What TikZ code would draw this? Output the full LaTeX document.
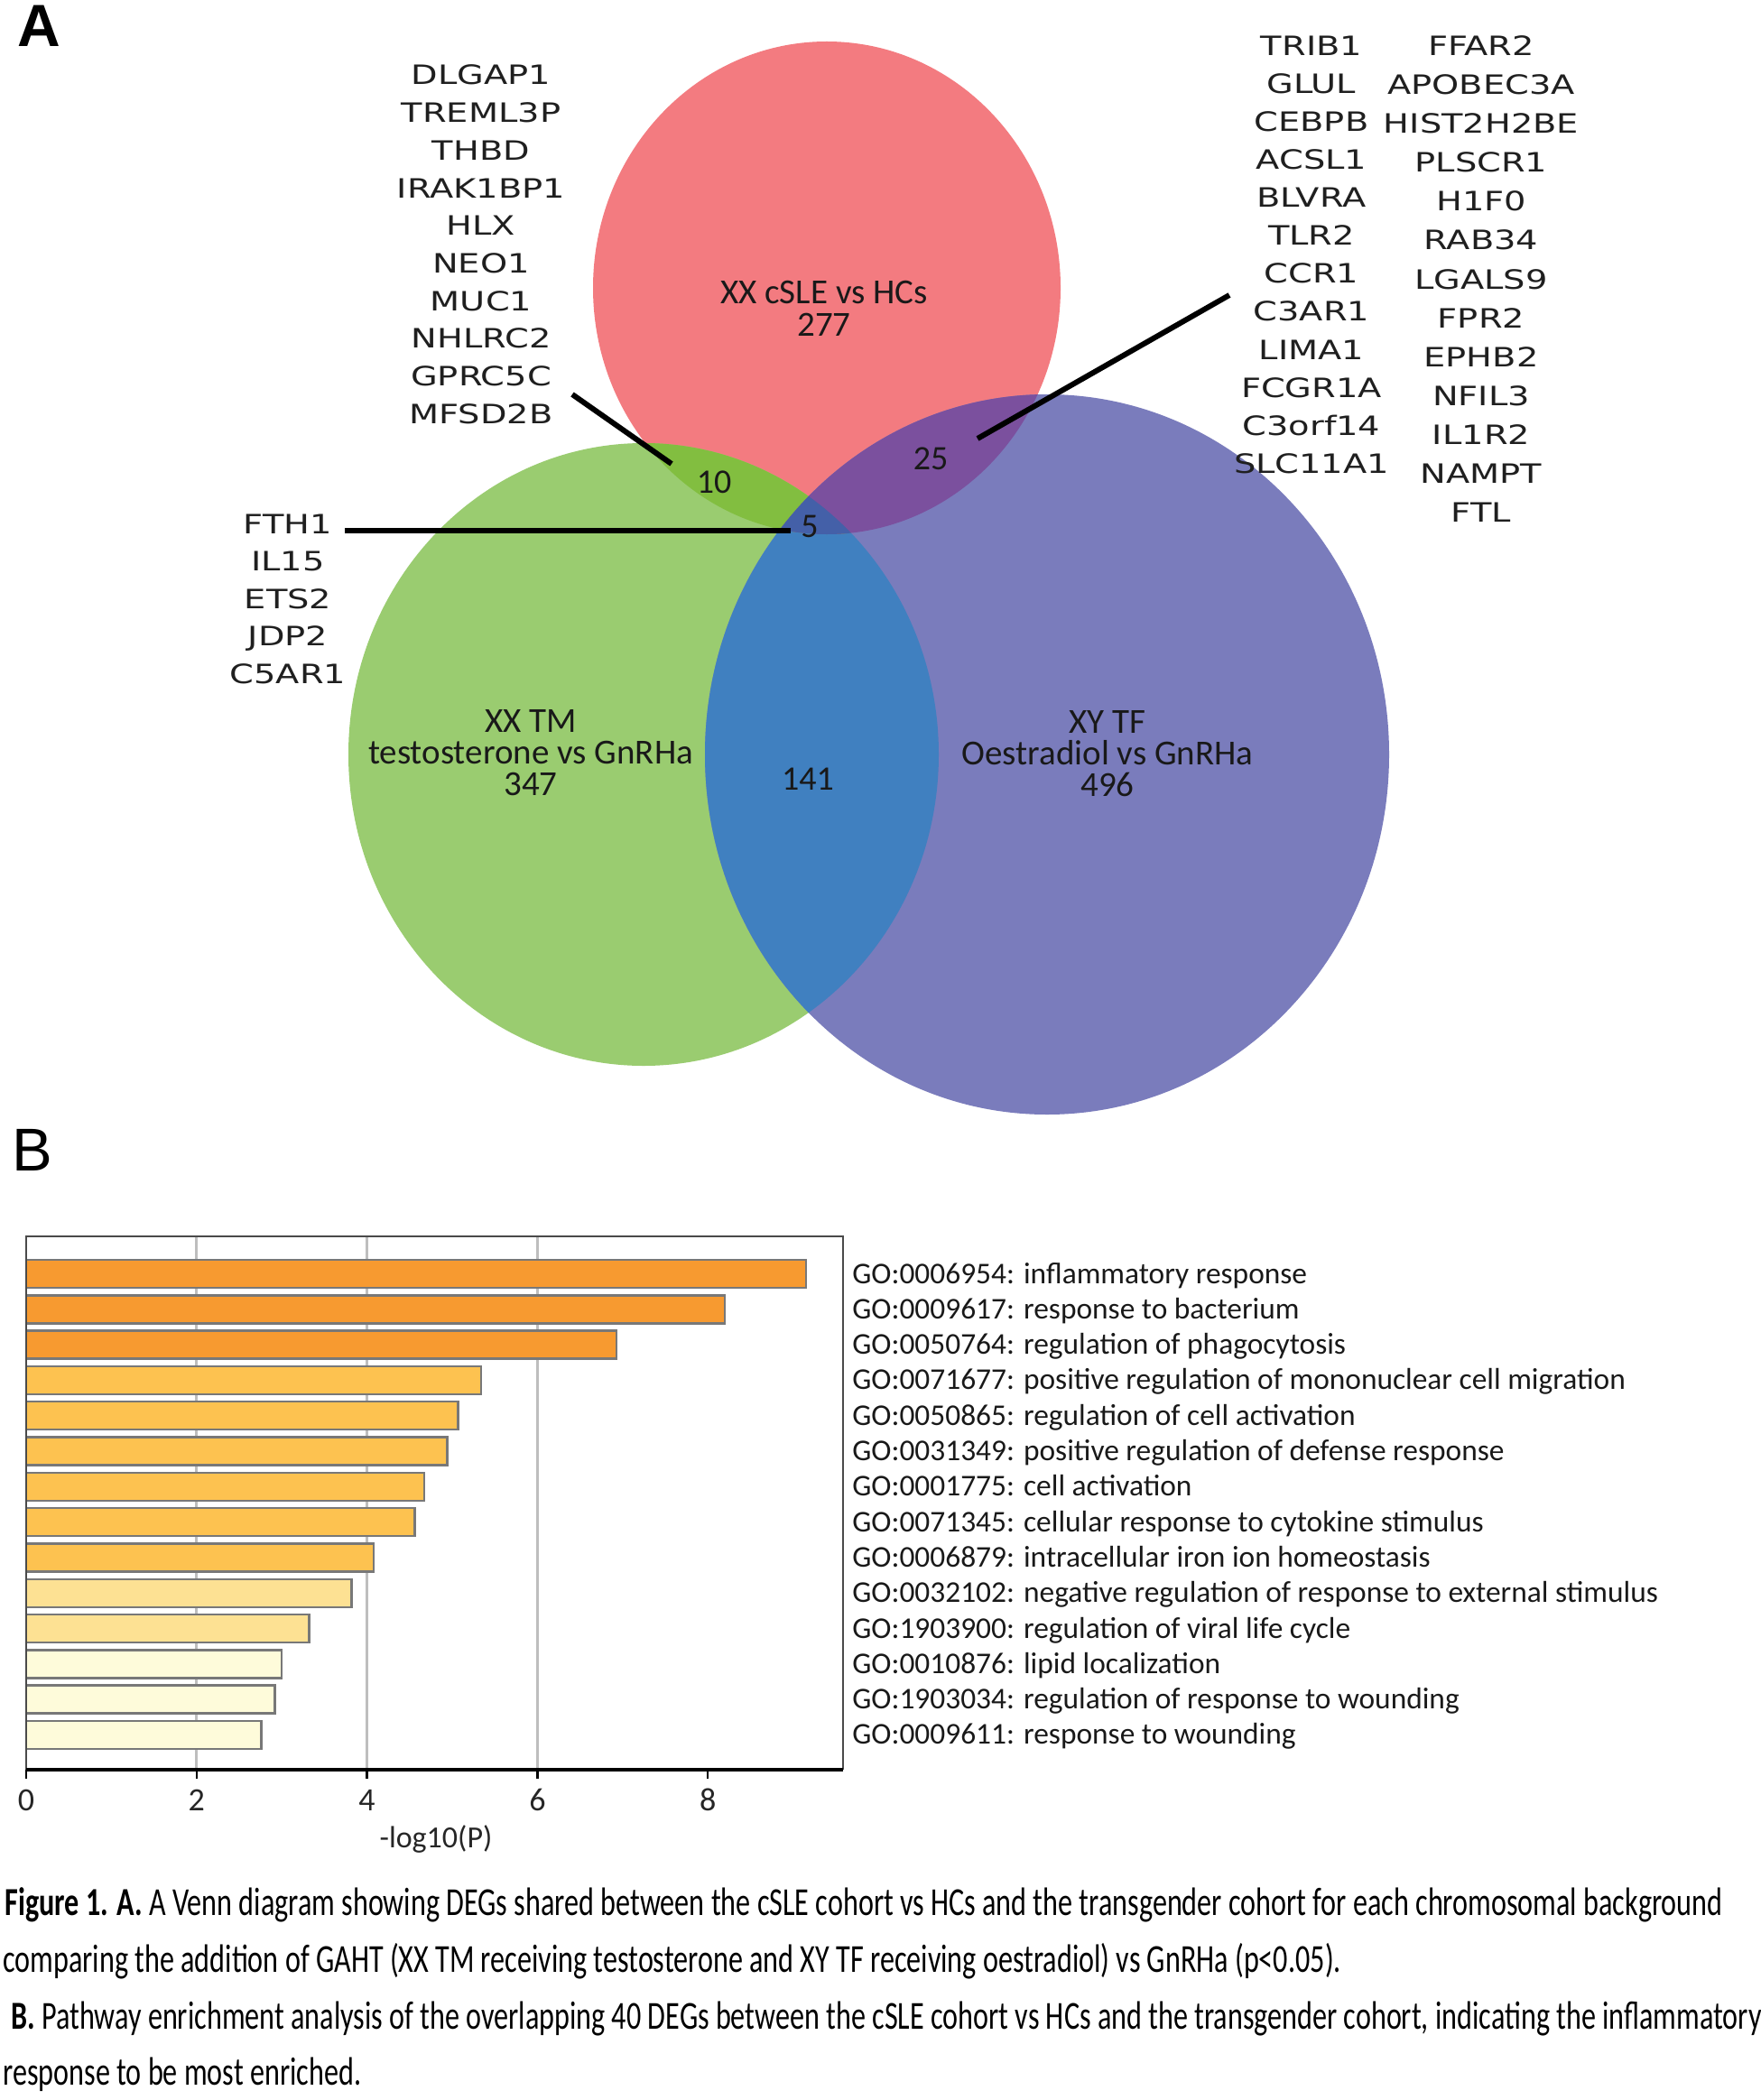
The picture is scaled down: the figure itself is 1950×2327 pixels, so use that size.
\documentclass[tikz,border=0pt]{standalone}
\usepackage{fontspec}
\setmainfont{Carlito}
\newfontfamily\genefont[FakeStretch=1.3]{DejaVu Sans}
\newfontfamily\capfont[FakeStretch=0.731]{Carlito}
\newfontfamily\arialfont{Liberation Sans}
\definecolor{vred}{HTML}{F37B80}
\definecolor{vgreen}{HTML}{9ACC70}
\definecolor{vblue}{HTML}{7A7CBC}
\definecolor{vrg}{HTML}{82BE40}
\definecolor{vrb}{HTML}{7B509E}
\definecolor{vgb}{HTML}{4080C0}
\definecolor{vrgb}{HTML}{4460A8}
\definecolor{orA}{HTML}{F79A30}
\definecolor{orB}{HTML}{FDC250}
\definecolor{orC}{HTML}{FDE193}
\definecolor{orD}{HTML}{FEFBDA}
\definecolor{gridc}{HTML}{BEBEBE}
\definecolor{framec}{HTML}{4A4A4A}
\definecolor{barline}{HTML}{787878}
\tikzset{
  gene/.style={font=\genefont\fontsize{14.75pt}{16pt}\selectfont, text=black!88, anchor=base, inner sep=0pt},
  vlab/.style={text=black!90, anchor=base, inner sep=0pt, align=center},
  vnum/.style={font=\fontsize{19pt}{21pt}\selectfont, text=black!90, anchor=base, inner sep=0pt},
  conn/.style={draw=black, line width=3pt},
  golab/.style={font=\fontsize{16.7pt}{18pt}\selectfont, text=black!90, anchor=base west, inner sep=0pt},
  ticklab/.style={font=\fontsize{18pt}{20pt}\selectfont, text=black!85, anchor=base, inner sep=0pt},
  caplab/.style={font=\capfont\fontsize{22pt}{24pt}\selectfont, text=black, anchor=base west, inner sep=0pt},
  gridline/.style={draw=gridc, line width=1.5pt},
  framebox/.style={draw=framec, line width=1.4pt},
  gobar/.style={draw=barline, line width=1.2pt},
  panel/.style={anchor=base west, inner sep=0pt}
}
\begin{document}
\begin{tikzpicture}[x=0.5pt,y=-0.5pt]
\useasboundingbox (0,0) rectangle (1950,2327);
\fill[white] (0,0) rectangle (1950,2327);

% ---------- Venn diagram ----------
\fill[vred] (916,319) ellipse [x radius=129.5pt, y radius=136.5pt];
\fill[vgreen] (713,836) ellipse [x radius=163.5pt, y radius=172.5pt];
\fill[vblue] (1160,836) ellipse [x radius=189.5pt, y radius=199.5pt];
\begin{scope}
  \clip (713,836) ellipse [x radius=163.5pt, y radius=172.5pt];
  \fill[vgb] (1160,836) ellipse [x radius=189.5pt, y radius=199.5pt];
\end{scope}
\begin{scope}
  \clip (916,319) ellipse [x radius=129.5pt, y radius=136.5pt];
  \fill[vrg] (713,836) ellipse [x radius=163.5pt, y radius=172.5pt];
  \fill[vrb] (1160,836) ellipse [x radius=189.5pt, y radius=199.5pt];
  \clip (713,836) ellipse [x radius=163.5pt, y radius=172.5pt];
  \fill[vrgb] (1160,836) ellipse [x radius=189.5pt, y radius=199.5pt];
\end{scope}

% panel labels
\node[panel, font=\arialfont\bfseries\fontsize{33pt}{35pt}\selectfont] (panelA) at (19,52) {A};
\node[panel, font=\arialfont\fontsize{33.5pt}{35pt}\selectfont] (panelB) at (13,1297) {B};

% set labels (anchor base = last line baseline)
\node[vlab, font=\fontsize{19.5pt}{17.5pt}\selectfont] (redlab) at (913,372) {XX cSLE vs HCs\\277};
\node[vlab, font=\fontsize{19.5pt}{17.5pt}\selectfont] (grlab) at (588,881) {XX TM\\testosterone vs GnRHa\\347};
\node[vlab, font=\fontsize{19.5pt}{17.5pt}\selectfont] (bllab) at (1227,882) {XY TF\\Oestradiol vs GnRHa\\496};
\node[vnum] (n10) at (791,546) {10};
\node[vnum] (n25) at (1031,520) {25};
\node[vnum] (n5) at (897,595) {5};
\node[vnum] (n141) at (895,875) {141};

% gene lists
\foreach \g [count=\i from 0] in {DLGAP1,TREML3P,THBD,IRAK1BP1,HLX,NEO1,MUC1,NHLRC2,GPRC5C,MFSD2B}
  \node[gene] (gl\i) at (533,{94+41.7*\i}) {\g};
\foreach \g [count=\i from 0] in {TRIB1,GLUL,CEBPB,ACSL1,BLVRA,TLR2,CCR1,C3AR1,LIMA1,FCGR1A,C3orf14,SLC11A1}
  \node[gene] (ga\i) at (1453,{62+42*\i}) {\g};
\foreach \g [count=\i from 0] in {FFAR2,APOBEC3A,HIST2H2BE,PLSCR1,H1F0,RAB34,LGALS9,FPR2,EPHB2,NFIL3,IL1R2,NAMPT,FTL}
  \node[gene] (gb\i) at (1641,{61.5+43.1*\i}) {\g};
\foreach \g [count=\i from 0] in {FTH1,IL15,ETS2,JDP2,C5AR1}
  \node[gene] (gf\i) at (319,{591+41.6*\i}) {\g};

% connectors
\coordinate (c10a) at (634,437);
\coordinate (c10b) at (744,514);
\coordinate (c25a) at (1362,327);
\coordinate (c25b) at (1083,486);
\coordinate (c5a) at (382,588);
\coordinate (c5b) at (876,588);
\draw[conn] (c10a) -- (c10b);
\draw[conn] (c25a) -- (c25b);
\draw[conn] (c5a) -- (c5b);

% ---------- Bar chart ----------
\foreach \v in {2,4,6}
  \draw[gridline] ({29+94.4*\v},1370) -- ({29+94.4*\v},1961);
\foreach \v/\c [count=\i from 0] in {9.15/orA,8.20/orA,6.93/orA,5.34/orB,5.07/orB,4.94/orB,4.67/orB,4.56/orB,4.08/orB,3.82/orC,3.32/orC,3.00/orD,2.92/orD,2.76/orD}
  \draw[gobar, fill=\c] (29,{1396+39.3*\i}) rectangle ({29+94.4*\v},{1427+39.3*\i});
\draw[framebox] (29,1961) -- (29,1370) -- (934,1370) -- (934,1961);
\draw[draw=black, line width=1.6pt] (29,1961) -- (934,1961);
\foreach \v in {0,2,4,6,8} {
  \draw[draw=black, line width=1.2pt] ({29+94.4*\v},1961) -- ({29+94.4*\v},1971);
  \node[ticklab] (tk\v) at ({29+94.4*\v},2006) {\v};
}
\node[font=\fontsize{17pt}{19pt}\selectfont, text=black!85, inner sep=0pt] (xtitle) at (483,2038) {-log10(P)};

\foreach \t [count=\i from 0] in {
 {GO:0006954: inflammatory response},
 {GO:0009617: response to bacterium},
 {GO:0050764: regulation of phagocytosis},
 {GO:0071677: positive regulation of mononuclear cell migration},
 {GO:0050865: regulation of cell activation},
 {GO:0031349: positive regulation of defense response},
 {GO:0001775: cell activation},
 {GO:0071345: cellular response to cytokine stimulus},
 {GO:0006879: intracellular iron ion homeostasis},
 {GO:0032102: negative regulation of response to external stimulus},
 {GO:1903900: regulation of viral life cycle},
 {GO:0010876: lipid localization},
 {GO:1903034: regulation of response to wounding},
 {GO:0009611: response to wounding}}
  \node[golab] (go\i) at (944,{1422+39.3*\i}) {\t};

% ---------- Caption ----------
\node[caplab] (cap1) at (5,2122) {\textbf{Figure 1. A.} A Venn diagram showing DEGs shared between the cSLE cohort vs HCs and the transgender cohort for each chromosomal background};
\node[caplab] (cap2) at (3,2185) {comparing the addition of GAHT (XX TM receiving testosterone and XY TF receiving oestradiol) vs GnRHa (p<0.05).};
\node[caplab] (cap3) at (12,2248) {\textbf{B.} Pathway enrichment analysis of the overlapping 40 DEGs between the cSLE cohort vs HCs and the transgender cohort, indicating the inflammatory};
\node[caplab] (cap4) at (3,2310) {response to be most enriched.};
\end{tikzpicture}
\end{document}
